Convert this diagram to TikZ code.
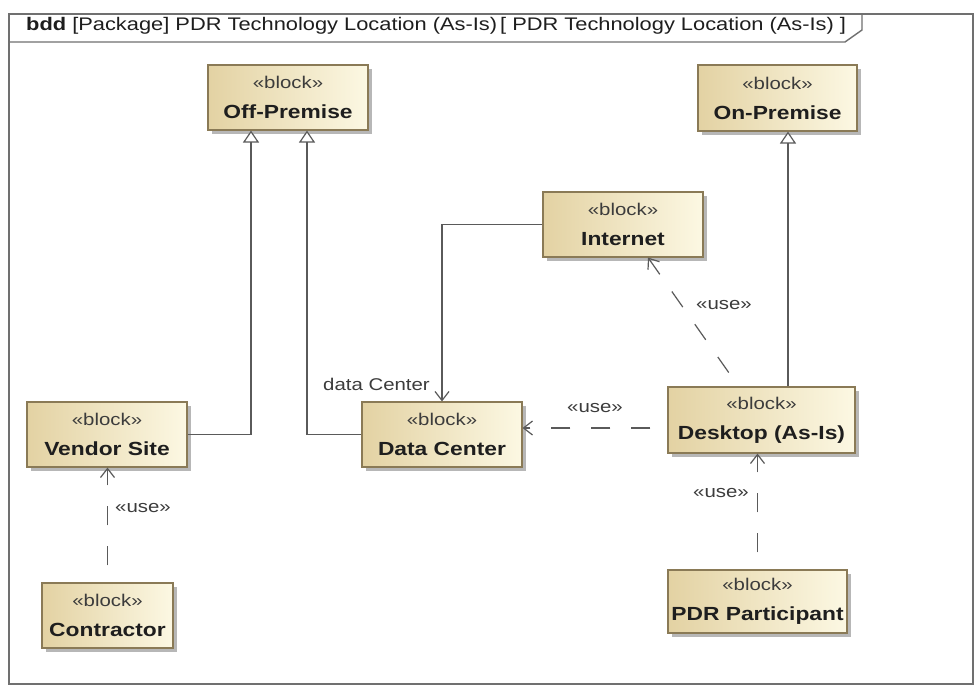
\documentclass[tikz,border=0pt]{standalone}
\usepackage{fontspec}
\setmainfont{Liberation Sans}[FakeStretch=1.2]
\usetikzlibrary{arrows.meta,shadows}
\definecolor{blockdark}{HTML}{E3D2A3}
\definecolor{blocklight}{HTML}{FCF8E3}
\definecolor{blockborder}{HTML}{8A7A56}
\definecolor{linegray}{HTML}{5A5A5A}
\definecolor{framegray}{HTML}{707070}
\definecolor{textdark}{HTML}{1E1E1E}
\definecolor{stereo}{HTML}{3C3C3C}
\newcommand\blk[1]{{\color{stereo}«block»}\\{\fontsize{19}{30}\selectfont\bfseries #1}}
\begin{document}
\begin{tikzpicture}[x=1pt,y=-1pt,
  block/.style={draw=blockborder, line width=1.1pt, left color=blockdark, right color=blocklight,
    align=center, inner sep=0pt, text=textdark,
    drop shadow={shadow xshift=4pt,shadow yshift=-4pt,fill=black!40,opacity=0.7},
    font=\fontsize{17}{30}\selectfont},
  bsize/.style 2 args={minimum width=#1pt, minimum height=#2pt},
  frame/.style={draw=framegray, line width=1.4pt},
  gen/.style={draw=linegray, line width=1.2pt, -{Triangle[length=12pt,width=16pt,fill=white]}},
  assoc/.style={draw=linegray, line width=1.2pt, -{Straight Barb[length=9pt,width=14pt]}},
  use/.style={draw=linegray, line width=1.2pt, dash pattern=on 19pt off 21pt, dash phase=23pt,
    -{Straight Barb[length=9pt,width=14pt]}},
  lbl/.style={font=\fontsize{17}{20}\selectfont, text=stereo, inner sep=1pt}
]
\useasboundingbox (0,0) rectangle (975,687);
\fill[white] (0,0) rectangle (975,687);

% frame and header tab
\draw[frame] (9,14) rectangle (973,684);
\draw[frame] (9,42) -- (845,42) -- (862,30) -- (862,14);
\node[anchor=base west, inner sep=0pt, text=textdark, font=\fontsize{18.2}{20}\selectfont] (hdr) at (26,31)
  {\textbf{bdd} [Package] PDR Technology Location (As-Is)\,[ PDR Technology Location (As-Is) ]};

% blocks
\node[block, bsize={160}{65}] (off) at (288,97.5) {\blk{Off-Premise}};
\node[block, bsize={159}{66}] (on) at (777.5,98) {\blk{On-Premise}};
\node[block, bsize={160}{65}] (inet) at (623,224.5) {\blk{Internet}};
\node[block, bsize={160}{65}] (vendor) at (107,434.5) {\blk{Vendor Site}};
\node[block, bsize={160}{65}] (dc) at (442,434.5) {\blk{Data Center}};
\node[block, bsize={187}{66}] (desk) at (761.5,420) {\blk{Desktop (As-Is)}};
\node[block, bsize={131}{65}] (con) at (107.5,615.5) {\blk{Contractor}};
\node[block, bsize={179}{63}] (pdr) at (757.5,601.5) {\blk{PDR Participant}};

% generalizations
\coordinate (offa) at ([xshift=-37pt]off.south);
\coordinate (offb) at ([xshift=19pt]off.south);
\coordinate (ona) at ([xshift=10.5pt]on.south);
\draw[gen] (vendor.east) -| (offa);
\draw[gen] (dc.west) -| (offb);
\draw[gen] (desk.north -| ona) -- (ona);

% association
\draw[assoc] (inet.west) -| (dc.north);
\node[lbl, anchor=east] (dclbl) at (431,384) {data Center};

% use dependencies
\coordinate (dsrc) at ([yshift=-8pt]desk.west);
\draw[use] (dsrc) -- (dsrc -| dc.east);
\draw[use] ([xshift=-23pt]desk.north) -- ([xshift=25pt]inet.south);
\draw[use] (pdr.north) -- (pdr.north |- desk.south);
\draw[use] (con.north) -- (con.north |- vendor.south);

\node[lbl] (u1) at (595,408) {«use»};
\node[lbl] (u2) at (724,305) {«use»};
\node[lbl] (u3) at (721,493) {«use»};
\node[lbl] (u4) at (143,508) {«use»};
\end{tikzpicture}
\end{document}
